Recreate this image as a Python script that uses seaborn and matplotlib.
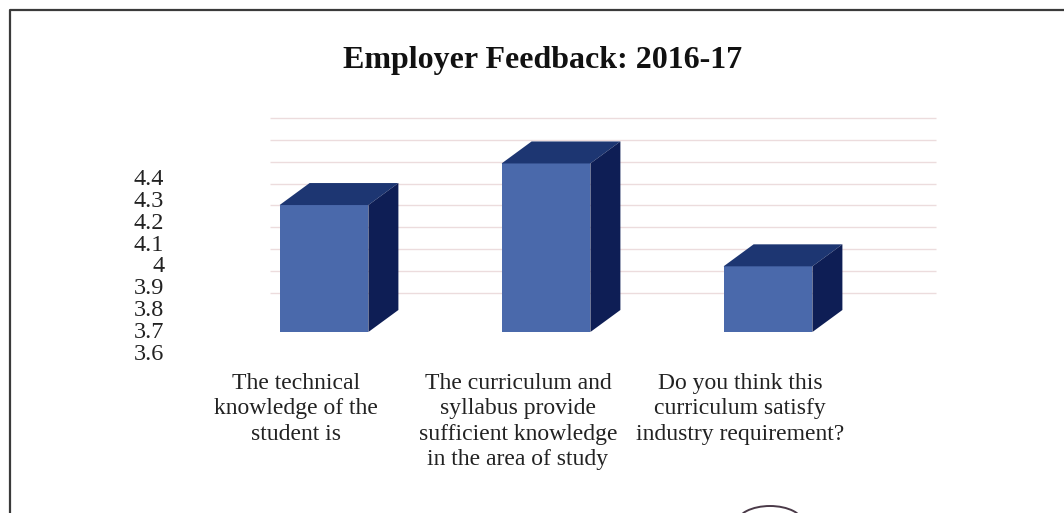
import matplotlib
matplotlib.use("Agg")
import matplotlib.pyplot as plt
from matplotlib.patches import Polygon, Ellipse
from matplotlib.lines import Line2D
from matplotlib.transforms import ScaledTranslation, IdentityTransform
import seaborn as sns

# Survey questions and their mean scores
questions = [
    "The technical\nknowledge of the\nstudent is",
    "The curriculum and\nsyllabus provide\nsufficient knowledge\nin the area of study",
    "Do you think this\ncurriculum satisfy\nindustry requirement?",
]
scores = [4.18, 4.37, 3.9]

tick_values = [3.6, 3.7, 3.8, 3.9, 4.0, 4.1, 4.2, 4.3, 4.4]
tick_labels = ["3.6", "3.7", "3.8", "3.9", "4", "4.1", "4.2", "4.3", "4.4"]
title = "Employer Feedback: 2016-17"

FLOOR = 3.6
FRONT = "#4a69ab"
TOP = "#1d3672"
SIDE = "#0e1e55"
GRID = "#ecdcdd"
SERIF = ["Liberation Serif", "DejaVu Serif"]

sns.set_theme(style="white")
plt.rcParams["font.family"] = SERIF

DPI = 100
W, H = 1064, 513
fig = plt.figure(figsize=(W / DPI, H / DPI), dpi=DPI)
fig.patch.set_facecolor("white")

# Axes plane = front edge of the 3-D floor
ax = fig.add_axes([185 / W, 161 / H, 666 / W, 197 / H])
ax.set_facecolor("none")


def shift(dx, dy):
    return ScaledTranslation(dx / DPI, dy / DPI, fig.dpi_scale_trans)


bar_off = shift(28, 20)      # bars sit halfway back on the floor
depth = (30, 22)             # bar depth in pixels
wall_off = shift(85, 59)     # back wall

sns.barplot(x=questions, y=scores, ax=ax, color=FRONT, saturation=1,
            width=0.4, edgecolor="none")

ax.set_xlim(-0.5, 2.5)
ax.set_ylim(FLOOR, 4.5)

# Back-wall gridlines
ax.hlines(tick_values, -0.5, 2.5, colors=GRID, linewidth=1.0,
          transform=ax.transData + wall_off, zorder=0, clip_on=False)

# Front faces: start at the floor and move back onto the bar plane
for patch, v in zip(ax.patches, scores):
    patch.set_y(FLOOR)
    patch.set_height(v - FLOOR)
    patch.set_transform(ax.transData + bar_off)
    patch.set_clip_on(False)
    patch.set_zorder(2)

# Top and side faces of each column
front_T = ax.transData + bar_off
for patch, v in zip(ax.patches, scores):
    x0 = patch.get_x()
    x1 = x0 + patch.get_width()
    a, b, c = front_T.transform([(x0, v), (x1, v), (x1, FLOOR)])
    dx, dy = depth
    top_face = [a, b, (b[0] + dx, b[1] + dy), (a[0] + dx, a[1] + dy)]
    side_face = [b, c, (c[0] + dx, c[1] + dy), (b[0] + dx, b[1] + dy)]
    fig.add_artist(Polygon(top_face, closed=True, facecolor=TOP,
                           edgecolor="none", transform=IdentityTransform()))
    fig.add_artist(Polygon(side_face, closed=True, facecolor=SIDE,
                           edgecolor="none", transform=IdentityTransform()))

ax.set_yticks(tick_values)
ax.set_yticklabels(tick_labels, fontsize=17.5, color="#222222")
ax.tick_params(axis="y", length=0, pad=15)
ax.tick_params(axis="x", length=0, pad=15)
for lab in ax.get_xticklabels():
    lab.set_fontsize(17)
    lab.set_color("#222222")
    lab.set_linespacing(1.28)
    lab.set_multialignment("center")
for s in ax.spines.values():
    s.set_visible(False)
ax.set_xlabel("")
ax.set_ylabel("")

fig.text(543 / W, (H - 68) / H, title, ha="center", va="baseline",
         fontsize=23, fontweight="bold", color="#111111")

# Outer frame of the chart box
fig.add_artist(Line2D([10 / W, 10 / W, 1.0], [0.0, 1 - 10 / H, 1 - 10 / H],
                      transform=fig.transFigure, color="#3a3a3a", linewidth=1.6))

# Stamp edge at the lower border
fig.add_artist(Ellipse((770, -10), 66, 34, facecolor="none", edgecolor="#4a3a48",
                       linewidth=1.4, transform=IdentityTransform()))

fig.savefig("out.png", dpi=DPI, facecolor="white")
